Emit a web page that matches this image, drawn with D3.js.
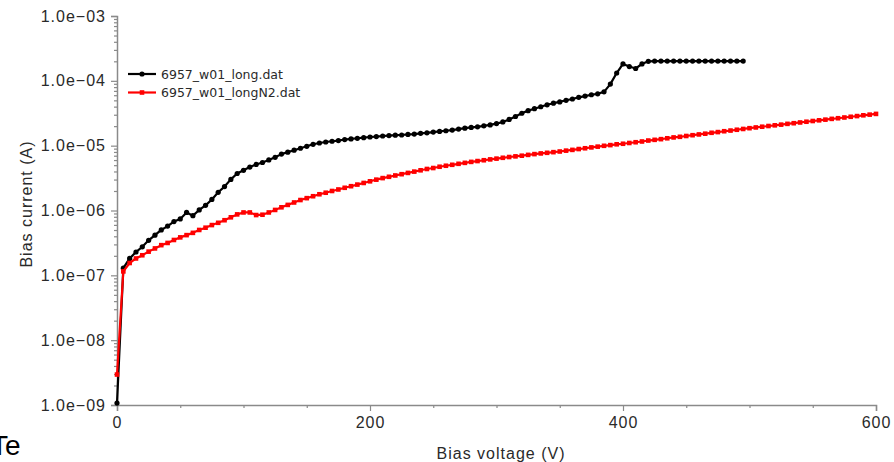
<!DOCTYPE html>
<html><head><meta charset="utf-8">
<script src="https://cdn.jsdelivr.net/npm/d3@7"></script>
<style>
html,body{margin:0;padding:0;background:#fff;}
svg{display:block;}
</style></head>
<body>
<svg id="chart" width="894" height="462"></svg>
<script>
// ---- data ----
const seriesNames = ["6957_w01_long.dat", "6957_w01_longN2.dat"];
const seriesColors = ["#000000", "#ff0000"];
const xTickValues = [0, 200, 400, 600];
const xMinorTickValues = [50, 100, 150, 250, 300, 350, 450, 500, 550];
const yTickValues = [1e-9, 1e-8, 1e-7, 1e-6, 1e-5, 1e-4, 1e-3];
const yTickLabels = ["1.0e\u221209", "1.0e\u221208", "1.0e\u221207", "1.0e\u221206", "1.0e\u221205", "1.0e\u221204", "1.0e\u221203"];
const xTitle = "Bias voltage (V)";
const yTitle = "Bias current (A)";

const voltageLong = d3.range(0, 500, 5);
const currentLong = [
 1.07e-9, 1.29e-7, 1.82e-7, 2.29e-7, 2.75e-7, 3.47e-7, 4.17e-7, 5.01e-7, 5.75e-7, 6.76e-7,
 7.41e-7, 9.33e-7, 8.32e-7, 1.02e-6, 1.20e-6, 1.48e-6, 1.91e-6, 2.34e-6, 3.02e-6, 3.72e-6,
 4.17e-6, 4.68e-6, 5.13e-6, 5.50e-6, 6.03e-6, 6.61e-6, 7.41e-6, 7.94e-6, 8.51e-6, 9.12e-6,
 9.77e-6, 1.05e-5, 1.10e-5, 1.14e-5, 1.17e-5, 1.20e-5, 1.24e-5, 1.27e-5, 1.30e-5, 1.33e-5,
 1.36e-5, 1.38e-5, 1.41e-5, 1.43e-5, 1.45e-5, 1.46e-5, 1.49e-5, 1.51e-5, 1.55e-5, 1.58e-5,
 1.62e-5, 1.66e-5, 1.70e-5, 1.74e-5, 1.80e-5, 1.86e-5, 1.91e-5, 1.95e-5, 2.02e-5, 2.09e-5,
 2.19e-5, 2.32e-5, 2.54e-5, 2.82e-5, 3.16e-5, 3.47e-5, 3.72e-5, 3.98e-5, 4.27e-5, 4.52e-5,
 4.73e-5, 5.01e-5, 5.25e-5, 5.56e-5, 5.82e-5, 6.10e-5, 6.31e-5, 6.76e-5, 8.91e-5, 1.32e-4,
 1.82e-4, 1.66e-4, 1.55e-4, 1.82e-4, 2.00e-4, 2.02e-4, 2.02e-4, 2.02e-4, 2.02e-4, 2.02e-4,
 2.02e-4, 2.02e-4, 2.02e-4, 2.02e-4, 2.02e-4, 2.02e-4, 2.02e-4, 2.02e-4, 2.02e-4, 2.02e-4
];
const voltageN2 = d3.range(0, 605, 5);
const currentN2 = [
 2.95e-9, 1.15e-7, 1.55e-7, 1.82e-7, 2.04e-7, 2.32e-7, 2.60e-7, 2.92e-7, 3.16e-7, 3.51e-7,
 3.85e-7, 4.17e-7, 4.52e-7, 5.01e-7, 5.43e-7, 5.96e-7, 6.46e-7, 7.08e-7, 7.85e-7, 8.71e-7,
 9.33e-7, 9.33e-7, 8.51e-7, 8.61e-7, 9.33e-7, 1.02e-6, 1.12e-6, 1.22e-6, 1.33e-6, 1.45e-6,
 1.55e-6, 1.66e-6, 1.78e-6, 1.88e-6, 2.00e-6, 2.11e-6, 2.24e-6, 2.37e-6, 2.51e-6, 2.66e-6,
 2.82e-6, 2.99e-6, 3.16e-6, 3.31e-6, 3.47e-6, 3.63e-6, 3.80e-6, 3.98e-6, 4.17e-6, 4.37e-6,
 4.52e-6, 4.73e-6, 4.90e-6, 5.07e-6, 5.25e-6, 5.43e-6, 5.62e-6, 5.79e-6, 5.96e-6, 6.14e-6,
 6.31e-6, 6.50e-6, 6.68e-6, 6.84e-6, 7.00e-6, 7.21e-6, 7.41e-6, 7.59e-6, 7.76e-6, 7.94e-6,
 8.13e-6, 8.38e-6, 8.61e-6, 8.87e-6, 9.12e-6, 9.40e-6, 9.66e-6, 9.95e-6, 1.02e-5, 1.05e-5,
 1.07e-5, 1.10e-5, 1.13e-5, 1.16e-5, 1.20e-5, 1.23e-5, 1.26e-5, 1.30e-5, 1.34e-5, 1.37e-5,
 1.41e-5, 1.45e-5, 1.49e-5, 1.53e-5, 1.58e-5, 1.62e-5, 1.67e-5, 1.71e-5, 1.76e-5, 1.81e-5,
 1.86e-5, 1.91e-5, 1.96e-5, 2.01e-5, 2.06e-5, 2.11e-5, 2.17e-5, 2.22e-5, 2.28e-5, 2.34e-5,
 2.40e-5, 2.46e-5, 2.52e-5, 2.59e-5, 2.65e-5, 2.72e-5, 2.79e-5, 2.86e-5, 2.94e-5, 3.01e-5,
 3.09e-5
];
const clippedText = "Te";

// ---- layout ----
const svg = d3.select("#chart");
const x = d3.scaleLinear().domain([0, 600]).range([117, 876]);
const y = d3.scaleLog().domain([1e-9, 1e-3]).range([405, 16]);
const axisColor = "#8a8a8a";
const textColor = "#2a2a2a";
const tickFont = "'Liberation Sans', Arial, sans-serif";

// y minor ticks
const yMinor = [];
for (let e = -9; e < -3; e++) for (let m = 2; m <= 9; m++) yMinor.push(m * Math.pow(10, e));

svg.append("g").attr("transform", "translate(117,0)")
  .call(d3.axisLeft(y).tickValues(yTickValues).tickFormat((d, i) => yTickLabels[i]).tickSize(6).tickPadding(5));
svg.append("g").attr("transform", "translate(117,0)")
  .call(d3.axisLeft(y).tickValues(yMinor).tickFormat("").tickSize(3))
  .call(g => g.select(".domain").remove());

svg.append("g").attr("transform", "translate(0,405)")
  .call(d3.axisBottom(x).tickValues(xTickValues).tickFormat(d3.format("d")).tickSize(6).tickPadding(6));
svg.append("g").attr("transform", "translate(0,405)")
  .call(d3.axisBottom(x).tickValues(xMinorTickValues).tickFormat("").tickSize(3))
  .call(g => g.select(".domain").remove());

svg.selectAll(".domain").attr("stroke", axisColor).attr("stroke-width", 1.5);
svg.selectAll(".tick line").attr("stroke", axisColor).attr("stroke-width", 1.2);
svg.selectAll(".tick text").attr("fill", textColor)
  .style("font-family", tickFont).style("font-size", "16px").style("letter-spacing", "1px");

// axis titles
svg.append("text").attr("x", 501).attr("y", 459).attr("text-anchor", "middle")
  .attr("fill", textColor).style("font-family", tickFont).style("font-size", "16px").style("letter-spacing", "1px")
  .text(xTitle);
svg.append("text").attr("transform", "translate(32,204) rotate(-90)").attr("text-anchor", "middle")
  .attr("fill", textColor).style("font-family", tickFont).style("font-size", "16px").style("letter-spacing", "1px")
  .text(yTitle);

// series
const seriesData = [
  voltageLong.map((v, i) => ({v, c: currentLong[i]})),
  voltageN2.map((v, i) => ({v, c: currentN2[i]}))
];
const line = d3.line().x(d => x(d.v)).y(d => y(d.c));

[0, 1].forEach(k => {
  const g = svg.append("g");
  g.append("path").datum(seriesData[k]).attr("d", line)
    .attr("fill", "none").attr("stroke", seriesColors[k]).attr("stroke-width", 2.2).attr("stroke-linejoin", "round");
  if (k === 0) {
    g.selectAll("circle").data(seriesData[k]).join("circle")
      .attr("cx", d => x(d.v)).attr("cy", d => y(d.c)).attr("r", 2.6).attr("fill", seriesColors[k]);
  } else {
    g.selectAll("rect").data(seriesData[k]).join("rect")
      .attr("x", d => x(d.v) - 2.3).attr("y", d => y(d.c) - 2.3).attr("width", 4.6).attr("height", 4.6)
      .attr("fill", seriesColors[k]);
  }
});

// legend
const legend = svg.append("g");
seriesNames.forEach((name, k) => {
  const ly = 74 + k * 18.5;
  legend.append("line").attr("x1", 128).attr("x2", 156).attr("y1", ly).attr("y2", ly)
    .attr("stroke", seriesColors[k]).attr("stroke-width", 2.2);
  if (k === 0) legend.append("circle").attr("cx", 142).attr("cy", ly).attr("r", 2.6).attr("fill", seriesColors[k]);
  else legend.append("rect").attr("x", 139.7).attr("y", ly - 2.3).attr("width", 4.6).attr("height", 4.6).attr("fill", seriesColors[k]);
  legend.append("text").attr("x", 161).attr("y", ly + 4.5).attr("fill", textColor)
    .style("font-family", "'DejaVu Sans', Verdana, sans-serif").style("font-size", "12.5px").text(name);
});

// text fragment cut by the left edge, as in the reference
svg.append("text").attr("x", -9).attr("y", 455).attr("fill", "#000")
  .style("font-family", "'Liberation Sans', Arial, sans-serif").style("font-size", "28px").text(clippedText);
</script>
</body></html>
